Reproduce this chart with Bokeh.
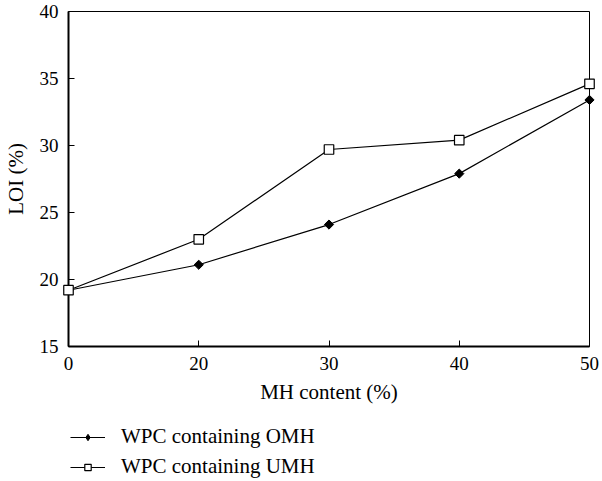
import math
from bokeh.plotting import figure
from bokeh.layouts import column
from bokeh.models import Range1d, FixedTicker, Legend, LegendItem
from bokeh.embed import file_html
from bokeh.resources import INLINE

# Data
mh_content = ["0", "20", "30", "40", "50"]
loi_omh = [19.2, 21.1, 24.1, 27.9, 33.4]
loi_umh = [19.2, 23.0, 29.7, 30.4, 34.6]
y_ticks = [15, 20, 25, 30, 35, 40]
series_names = ["WPC containing OMH", "WPC containing UMH"]

FONT = "Liberation Serif"
xpos = list(range(len(mh_content)))

p = figure(width=602, height=410, output_backend="svg", toolbar_location=None,
           x_range=Range1d(xpos[0], xpos[-1]), y_range=Range1d(y_ticks[0], y_ticks[-1]),
           min_border_left=68, min_border_right=13, min_border_top=11, min_border_bottom=64)
p.xgrid.visible = False
p.ygrid.visible = False
p.outline_line_color = "black"
p.outline_line_width = 1
p.background_fill_color = "white"
p.border_fill_color = "white"

for ax in (p.xaxis[0], p.yaxis[0]):
    ax.axis_line_width = 2
    ax.axis_line_color = "black"
    ax.major_tick_in = 6
    ax.major_tick_out = 0
    ax.major_tick_line_color = "black"
    ax.minor_tick_line_color = None
    ax.major_label_text_font = FONT
    ax.major_label_text_font_size = "19px"
    ax.major_label_text_color = "black"
    ax.axis_label_text_font = FONT
    ax.axis_label_text_font_size = "21px"
    ax.axis_label_text_font_style = "normal"
    ax.axis_label_text_color = "black"
    ax.major_label_standoff = 10

p.xaxis.ticker = FixedTicker(ticks=xpos)
p.xaxis.major_label_overrides = {i: c for i, c in zip(xpos, mh_content)}
p.xaxis.axis_label = "MH content (%)"
p.xaxis.axis_label_standoff = 7
p.yaxis.ticker = FixedTicker(ticks=y_ticks)
p.yaxis.axis_label = "LOI (%)"
p.yaxis.axis_label_standoff = 9

p.line(xpos, loi_omh, line_color="black", line_width=1.2)
p.scatter(xpos, loi_omh, marker="square", angle=math.pi / 4, size=6.5,
          fill_color="black", line_color="black", level="overlay")
p.line(xpos, loi_umh, line_color="black", line_width=1.2)
p.scatter(xpos, loi_umh, marker="square", size=9.5, fill_color="white",
          line_color="black", line_width=1.2, level="overlay")

# Legend panel below the chart (sample glyphs only, no data drawn)
q = figure(width=602, height=71, output_backend="svg", toolbar_location=None,
           x_range=Range1d(0, 1), y_range=Range1d(0, 1),
           x_axis_location=None, y_axis_location=None,
           min_border_left=0, min_border_right=0, min_border_top=0, min_border_bottom=0)
q.xgrid.visible = False
q.ygrid.visible = False
q.outline_line_color = None
q.background_fill_color = "white"
q.border_fill_color = "white"
nan = [float("nan")]
ql1 = q.line(nan, nan, line_color="black", line_width=1.2)
qm1 = q.scatter(nan, nan, marker="diamond", fill_color="black", line_color="black")
ql2 = q.line(nan, nan, line_color="black", line_width=1.2)
qm2 = q.scatter(nan, nan, marker="square", fill_color="white",
                line_color="black", line_width=1.2)

legend = Legend(items=[LegendItem(label=series_names[0], renderers=[ql1, qm1]),
                       LegendItem(label=series_names[1], renderers=[ql2, qm2])],
                location=(2, 2), orientation="vertical")
legend.margin = 0
legend.padding = 0
legend.border_line_color = None
legend.background_fill_alpha = 0
legend.glyph_width = 35
legend.glyph_height = 16
legend.label_height = 20
legend.spacing = 5
legend.label_standoff = 16
legend.label_text_font = FONT
legend.label_text_font_size = "21px"
legend.label_text_color = "black"
q.add_layout(legend, "center")

open("out.html", "w").write(file_html(column(p, q, spacing=0), INLINE))
